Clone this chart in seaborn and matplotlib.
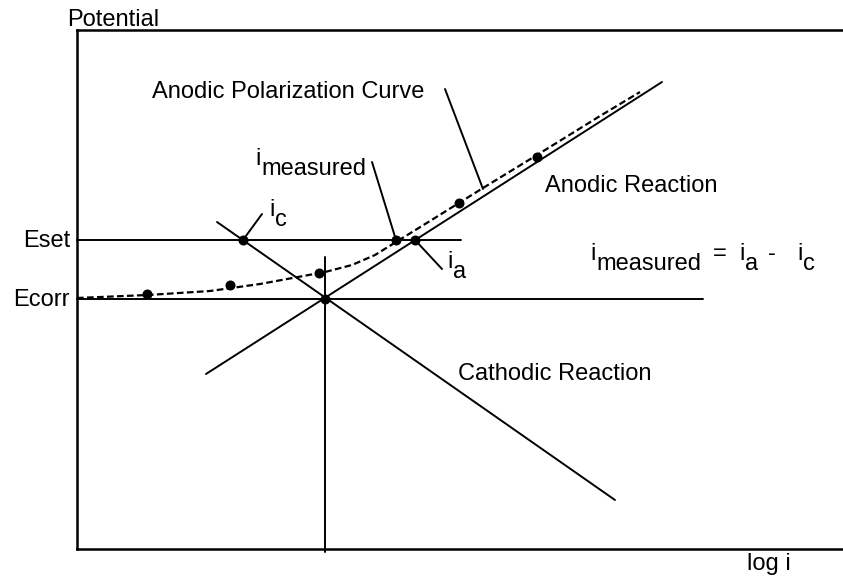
import pandas as pd
import matplotlib
matplotlib.use("Agg")
import matplotlib.pyplot as plt
import seaborn as sns

# potentials (arbitrary units)
E_CORR = 2.50
E_SET = 3.09

# straight lines (log i, potential)
anodic_x = [1.29, 5.85]
anodic_y = [1.75, 4.67]
cathodic_x = [1.40, 5.38]
cathodic_y = [3.27, 0.49]
ecorr_line_x = [0.00, 6.26]
eset_line_x = [0.00, 3.84]
vert_y = [2.92, -0.03]

# measured anodic polarization curve (dashed)
meas_x = [0.00, 0.71, 1.33, 1.83, 2.48, 2.75, 2.98, 3.19, 3.53, 4.06, 4.60, 5.23, 5.63]
meas_y = [2.51, 2.54, 2.58, 2.65, 2.77, 2.84, 2.94, 3.07, 3.28, 3.61, 3.94, 4.33, 4.57]

# data points on the curve
pts_x = [0.70, 1.53, 2.42, 3.82, 4.60]
pts_y = [2.55, 2.64, 2.76, 3.46, 3.92]

# intersections marked with dots
cross_x = [1.66, 3.19, 3.38, 2.48]
cross_y = [E_SET, E_SET, E_SET, E_CORR]

# leader lines for labels: (x0, y0, x1, y1)
leaders = {
    "apc": (3.68, 4.60, 4.06, 3.60),
    "imeas": (2.95, 3.87, 3.19, 3.09),
    "ic": (1.85, 3.35, 1.66, 3.09),
    "ia": (3.38, 3.09, 3.65, 2.80),
}

rows = []
def add(name, xs, ys):
    for x, y in zip(xs, ys):
        rows.append({"x": x, "y": y, "seg": name})

add("anodic", anodic_x, anodic_y)
add("cathodic", cathodic_x, cathodic_y)
add("ecorr", ecorr_line_x, [E_CORR, E_CORR])
add("eset", eset_line_x, [E_SET, E_SET])
add("vert", [cross_x[3], cross_x[3]], vert_y)
for k, (x0, y0, x1, y1) in leaders.items():
    add(k, [x0, x1], [y0, y1])
lines = pd.DataFrame(rows)

sns.set_style("white")
plt.rcParams["font.family"] = ["Liberation Sans", "DejaVu Sans"]
plt.rcParams["text.color"] = "black"
FS = 17

fig = plt.figure(figsize=(8.43, 5.77), dpi=100)
ax = fig.add_axes([77 / 843, 28 / 577, 766 / 843, 519 / 577])

sns.lineplot(data=lines, x="x", y="y", units="seg", estimator=None, sort=False,
             color="black", lw=1.4, ax=ax, clip_on=False)
sns.lineplot(x=meas_x, y=meas_y, sort=False, estimator=None, color="black",
             lw=1.6, ls=(0, (3, 1.5)), ax=ax)
sns.scatterplot(x=pts_x + cross_x, y=pts_y + cross_y, color="black", s=52,
                linewidth=0, ax=ax, zorder=5)

ax.set_xlim(0, 7.66)
ax.set_ylim(0, 5.19)
ax.set_xticks([])
ax.set_yticks([])
ax.set_xlabel("")
ax.set_ylabel("")
for side in ["left", "top", "bottom"]:
    ax.spines[side].set_color("black")
    ax.spines[side].set_linewidth(1.8)
ax.spines["right"].set_visible(False)

def txt(x, y, s, **kw):
    ax.text(x, y, s, fontsize=FS, va="baseline", ha="left", color="black",
            clip_on=False, **kw)

def sub(x, y, base, low):
    # letter with a same-size subscript word set lower and just to the right
    txt(x, y, base)
    txt(x + 0.06, y - 0.10, low)

txt(-0.10, 5.23, "Potential")
txt(-0.54, 3.02, "Eset")
txt(-0.64, 2.43, "Ecorr")
txt(6.70, -0.21, "log i")
txt(0.75, 4.51, "Anodic Polarization Curve")
txt(4.68, 3.57, "Anodic Reaction")
txt(3.81, 1.69, "Cathodic Reaction")
sub(1.78, 3.84, "i", "measured")
sub(1.92, 3.33, "i", "c")
sub(3.70, 2.81, "i", "a")
# i_measured = i_a - i_c
sub(5.13, 2.89, "i", "measured")
txt(6.36, 2.89, "=")
sub(6.62, 2.89, "i", "a")
txt(6.91, 2.89, "-")
sub(7.20, 2.89, "i", "c")

fig.savefig("out.png", dpi=100)
